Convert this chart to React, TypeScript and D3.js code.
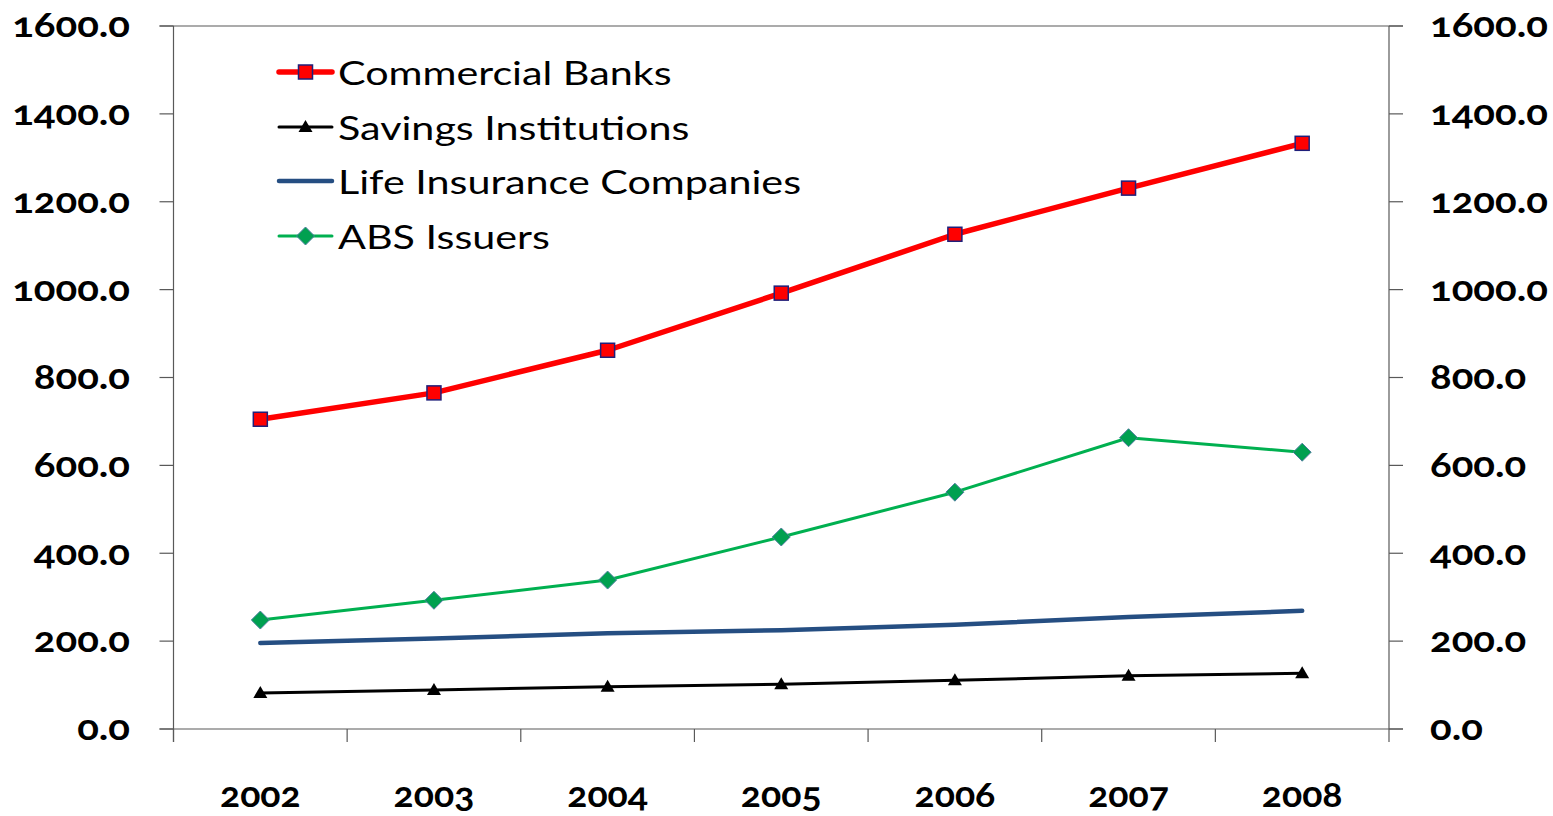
import React from "react";
import * as d3 from "d3";

const years = ["2002", "2003", "2004", "2005", "2006", "2007", "2008"];
const commercialBanks = [705, 765, 862, 992, 1126, 1231, 1333];
const savingsInstitutions = [82, 89, 96, 102, 111, 121, 127];
const lifeInsurance = [196, 206, 218, 225, 237, 255, 269];
const absIssuers = [248, 293, 339, 437, 539, 663, 630];
const yTicks = [0, 200, 400, 600, 800, 1000, 1200, 1400, 1600];

const seriesNames = ["Commercial Banks", "Savings Institutions", "Life Insurance Companies", "ABS Issuers"];

const W = 1553, H = 816;
const left = 173.5, right = 1389, top = 26, bottom = 729;
const FONT = "Lato, 'Open Sans', sans-serif";

export default function App() {
  const x = d3.scaleBand<string>().domain(years).range([left, right]);
  const y = d3.scaleLinear().domain([0, 1600]).range([bottom, top]);
  const cx = (i: number) => (x(years[i]) as number) + x.bandwidth() / 2;
  const line = d3.line<number>().x((_, i) => cx(i)).y((d) => y(d));

  const series = [
    { name: seriesNames[0], data: commercialBanks, color: "#FF0000", width: 5.5, marker: "square" },
    { name: seriesNames[1], data: savingsInstitutions, color: "#000000", width: 3, marker: "triangle" },
    { name: seriesNames[2], data: lifeInsurance, color: "#254E82", width: 4.5, marker: "none" },
    { name: seriesNames[3], data: absIssuers, color: "#00B050", width: 3, marker: "diamond" },
  ];

  const marker = (type: string, px: number, py: number, key: string) => {
    if (type === "square")
      return <rect key={key} x={px - 7} y={py - 7} width={14} height={14} fill="#FF0000" stroke="#1F1F7A" strokeWidth={1.5} />;
    if (type === "triangle")
      return <path key={key} d={`M${px},${py - 7}L${px + 7},${py + 5}L${px - 7},${py + 5}Z`} fill="#000" />;
    if (type === "diamond")
      return <path key={key} d={`M${px},${py - 9}L${px + 9},${py}L${px},${py + 9}L${px - 9},${py}Z`} fill="#00A050" stroke="#4F7F9F" strokeWidth={1} />;
    return null;
  };

  const axisColor = "#595959";
  const legendY = [72, 127, 181, 236];
  const drawOrder = [2, 1, 3, 0];
  const numStyle = { fontVariantNumeric: "oldstyle-nums" as const };

  return (
    <svg width={W} height={H} style={{ position: "absolute", left: 0, top: 0, background: "#fff" }} fontFamily={FONT}>
      <line x1={left} x2={left} y1={top} y2={bottom + 13} stroke={axisColor} strokeWidth={1.2} />
      <line x1={right} x2={right} y1={top} y2={bottom + 13} stroke={axisColor} strokeWidth={1.2} />
      <line x1={left - 14} x2={right + 14} y1={top} y2={top} stroke={axisColor} strokeWidth={1.2} />
      <line x1={left - 14} x2={right + 14} y1={bottom} y2={bottom} stroke={axisColor} strokeWidth={1.2} />
      {yTicks.map((t) => (
        <g key={"yt" + t}>
          <line x1={left - 14} x2={left} y1={y(t)} y2={y(t)} stroke={axisColor} strokeWidth={1.2} />
          <line x1={right} x2={right + 14} y1={y(t)} y2={y(t)} stroke={axisColor} strokeWidth={1.2} />
          <text transform={`translate(130,${y(t) + 11.3}) scale(1.18,1)`} textAnchor="end" fontSize={34} fontWeight={700} style={numStyle}>{t.toFixed(1)}</text>
          <text transform={`translate(1430,${y(t) + 11.3}) scale(1.18,1)`} textAnchor="start" fontSize={34} fontWeight={700} style={numStyle}>{t.toFixed(1)}</text>
        </g>
      ))}
      {years.map((yr, i) => (
        <g key={"xt" + yr}>
          <line x1={x(yr) as number} x2={x(yr) as number} y1={bottom} y2={bottom + 13} stroke={axisColor} strokeWidth={1.2} />
          <text transform={`translate(${cx(i)},807) scale(1.1,1)`} textAnchor="middle" fontSize={34} fontWeight={700} style={numStyle}>{yr}</text>
        </g>
      ))}
      {drawOrder.map((si) => {
        const s = series[si];
        return (
          <g key={s.name}>
            <path d={line(s.data) as string} fill="none" stroke={s.color} strokeWidth={s.width} strokeLinejoin="round" strokeLinecap="round" />
            {s.data.map((d, i) => marker(s.marker, cx(i), y(d), s.name + i))}
          </g>
        );
      })}
      {series.map((s, i) => (
        <g key={"lg" + s.name}>
          <line x1={279} x2={332} y1={legendY[i]} y2={legendY[i]} stroke={s.color} strokeWidth={s.width} strokeLinecap="round" />
          {marker(s.marker, 305.5, legendY[i], "lm" + i)}
          <text transform={`translate(338,${legendY[i] + 12.5}) scale(1.29,1)`} fontSize={32}>{s.name}</text>
        </g>
      ))}
    </svg>
  );
}
